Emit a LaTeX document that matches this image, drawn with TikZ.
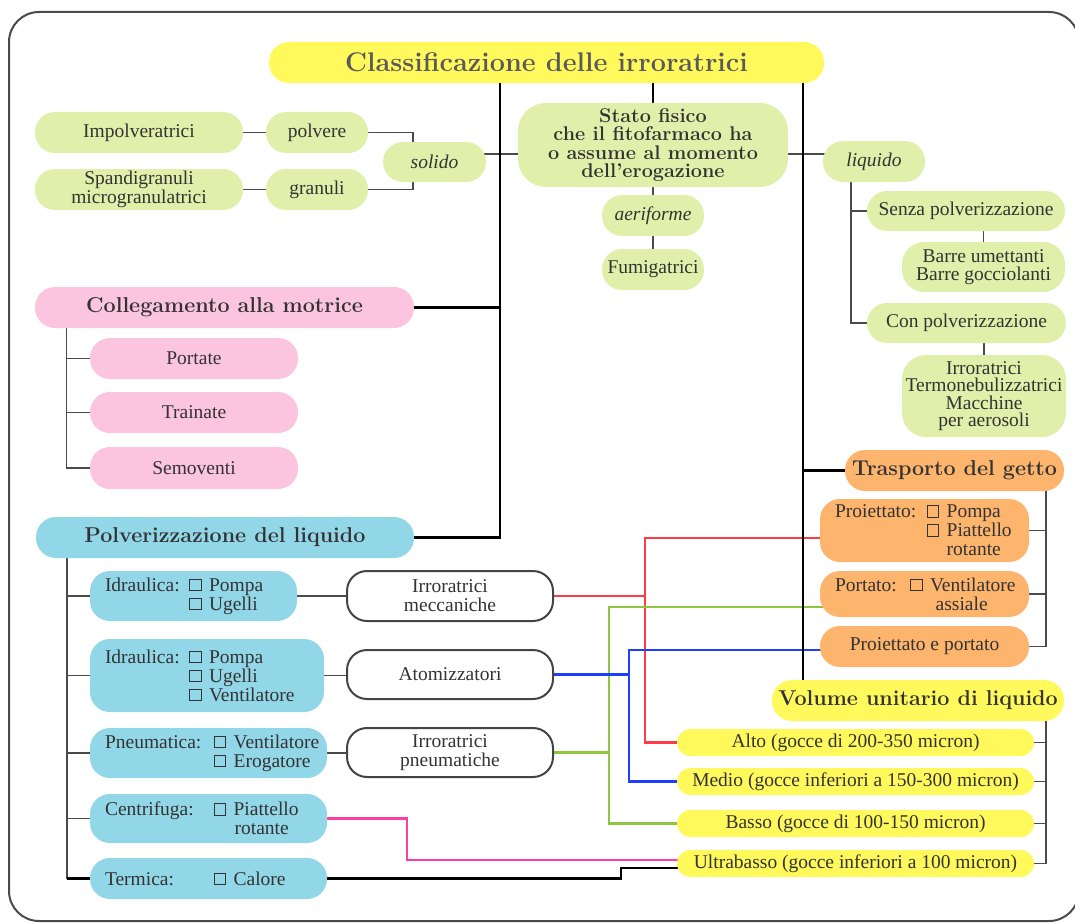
\documentclass[tikz,border=0pt]{standalone}
\usepackage{fontspec}
\newfontfamily\lib{Liberation Serif}
\pgfdeclarelayer{bg}
\pgfsetlayers{bg,main}
\definecolor{cyel}{HTML}{FFF95C}
\definecolor{cgr}{HTML}{E0EFA9}
\definecolor{cpk}{HTML}{FBC4DF}
\definecolor{cbl}{HTML}{92D7E7}
\definecolor{cor}{HTML}{FDB46C}
\definecolor{txt}{HTML}{333333}
\definecolor{ttl}{HTML}{5A5A5A}
\definecolor{lin}{HTML}{4A4A4A}
\definecolor{bord}{HTML}{444444}
\definecolor{fr}{HTML}{4A4A4A}
\definecolor{lred}{HTML}{FF3B47}
\definecolor{lgr}{HTML}{8DC63F}
\definecolor{lbl}{HTML}{1F3FFF}
\definecolor{lpk}{HTML}{FF3F9F}
\newcommand\bodyf{\lib\fontsize{19.5}{17.5}\selectfont}
\newcommand\chkf{\lib\fontsize{19.5}{19}\selectfont}
\newcommand\headf{\fontsize{21.5}{24}\selectfont\bfseries}
\newcommand\statof{\fontsize{19.8}{18.2}\selectfont\bfseries}
\newcommand\titlef{\fontsize{27}{29}\selectfont\bfseries}
\newcommand\ckb{\raisebox{1pt}{\setlength{\fboxsep}{0pt}\setlength{\fboxrule}{1.1pt}\fbox{\rule{0pt}{10.5pt}\rule{10.5pt}{0pt}}}\kern7.3pt}
\newcommand{\bx}[7]{%
 \pgfmathsetmacro\bxw{#5-#3}%
 \pgfmathsetmacro\bxh{#6-#4}%
 \pgfmathsetmacro\bxx{(#3+#5)/2}%
 \pgfmathsetmacro\bxy{(#4+#6)/2}%
 \node[#2,minimum width=\bxw pt,minimum height=\bxh pt] (#1) at (\bxx,\bxy) {#7};}
\newcommand{\lbx}[7]{%
 \pgfmathsetmacro\bxw{#5-#3-30}%
 \pgfmathsetmacro\bxh{#6-#4}%
 \pgfmathsetmacro\bxx{(#3+#5)/2}%
 \pgfmathsetmacro\bxy{(#4+#6)/2}%
 \node[#2,text width=\bxw pt,inner xsep=15pt,align=left,minimum height=\bxh pt] (#1) at (\bxx,\bxy) {#7};}
\tikzset{
 base/.style={rounded corners=20pt,inner sep=0pt,align=center,text=txt,font=\bodyf},
 gbox/.style={base,fill=cgr},
 pbox/.style={base,fill=cpk},
 bbox/.style={base,fill=cbl},
 obox/.style={base,fill=cor},
 ybox/.style={base,fill=cyel},
 wbox/.style={base,fill=white,draw=bord,line width=2pt},
 head/.style={font=\headf},
 small/.style={rounded corners=13.5pt},
 thk/.style={draw=black,line width=2.4pt},
 thn/.style={draw=lin,line width=1.4pt},
 coln/.style={line width=2.2pt},
 framebox/.style={draw=fr,line width=2pt,rounded corners=30pt}
}
\begin{document}
\begin{tikzpicture}[x=1pt,y=-1pt]
\path[use as bounding box] (0,0) rectangle (1075,923);
\draw[framebox] (9,12) rectangle (1079,921);

% top
\bx{title}{ybox,font=\titlef,text=ttl}{269}{42}{824}{83}{Classificazione delle irroratrici}
\bx{stato}{gbox,font=\statof,rounded corners=28pt}{518}{103}{788}{187}{Stato fisico\\che il fitofarmaco ha\\o assume al momento\\dell’erogazione}
\bx{solido}{gbox,font=\bodyf\itshape}{383}{142}{486}{182}{solido}
\bx{polvere}{gbox}{266}{112}{368}{153}{polvere}
\bx{granuli}{gbox}{266}{169}{368}{210}{granuli}
\bx{impol}{gbox}{35}{112}{243}{153}{Impolveratrici}
\bx{spandi}{gbox}{35}{169}{243}{210}{Spandigranuli\\microgranulatrici}
\bx{aeri}{gbox,font=\bodyf\itshape}{602}{195}{704}{236}{aeriforme}
\bx{fumi}{gbox}{602}{249}{704}{290}{Fumigatrici}
\bx{liquido}{gbox,font=\bodyf\itshape}{823}{141}{925}{182}{liquido}
\bx{senza}{gbox}{867}{191}{1065}{231}{Senza polverizzazione}
\bx{barre}{gbox,rounded corners=22pt}{902}{242}{1065}{292}{Barre umettanti\\Barre gocciolanti}
\bx{con}{gbox}{867}{303}{1066}{343}{Con polverizzazione}
\bx{irror}{gbox,rounded corners=24pt}{902}{355}{1066}{437}{Irroratrici\\Termonebulizzatrici\\Macchine\\per aerosoli}

% collegamento
\bx{coll}{pbox,head}{35}{287}{414}{328}{Collegamento alla motrice}
\bx{portate}{pbox}{90}{338}{298}{379}{Portate}
\bx{trainate}{pbox}{90}{392}{298}{433}{Trainate}
\bx{semov}{pbox}{90}{447}{298}{489}{Semoventi}

% polverizzazione
\bx{polv}{bbox,head}{36}{517}{414}{558}{Polverizzazione del liquido}
\lbx{idr1}{bbox,font=\chkf}{90}{571}{297}{621}{\makebox[84pt][l]{Idraulica:}\ckb Pompa\\\hspace*{84pt}\ckb Ugelli}
\lbx{idr2}{bbox,font=\chkf}{90}{639}{324}{712}{\makebox[84pt][l]{Idraulica:}\ckb Pompa\\\hspace*{84pt}\ckb Ugelli\\\hspace*{84pt}\ckb Ventilatore}
\lbx{pneu}{bbox,font=\chkf}{90}{728}{327}{778}{\makebox[108.6pt][l]{Pneumatica:}\ckb Ventilatore\\\hspace*{108.6pt}\ckb Erogatore}
\lbx{centr}{bbox,font=\chkf}{90}{794}{327}{843}{\makebox[108.6pt][l]{Centrifuga:}\ckb Piattello\\\hspace*{129.6pt}rotante}
\lbx{term}{bbox,font=\chkf}{90}{858}{327}{899}{\makebox[108.6pt][l]{Termica:}\ckb Calore}
\bx{mecc}{wbox,font=\chkf}{347}{571}{553}{621}{Irroratrici\\meccaniche}
\bx{atom}{wbox}{347}{650}{553}{699}{Atomizzatori}
\bx{pneum}{wbox,font=\chkf}{347}{728}{553}{777}{Irroratrici\\pneumatiche}

% trasporto
\bx{trasp}{obox,head}{845}{450}{1064}{491}{Trasporto del getto}
\lbx{proi}{obox,font=\chkf}{820}{499}{1029}{562}{\makebox[91.7pt][l]{Proiettato:}\ckb Pompa\\\hspace*{91.7pt}\ckb Piattello\\\hspace*{111.7pt}rotante}
\lbx{port}{obox,font=\chkf}{820}{571}{1029}{617}{\makebox[75pt][l]{Portato:}\ckb Ventilatore\\\hspace*{100.7pt}assiale}
\bx{pep}{obox}{820}{626}{1029}{667}{Proiettato e portato}

% volume
\bx{vol}{ybox,head}{772}{680}{1064}{721}{Volume unitario di liquido}
\bx{alto}{ybox,small}{677}{729}{1034}{756}{Alto (gocce di 200-350 micron)}
\bx{medio}{ybox,small}{677}{768}{1034}{795}{Medio (gocce inferiori a 150-300 micron)}
\bx{basso}{ybox,small}{677}{810}{1034}{837}{Basso (gocce di 100-150 micron)}
\bx{ultra}{ybox,small}{677}{850}{1034}{877}{Ultrabasso (gocce inferiori a 100 micron)}

% helper coordinates
\coordinate (xL) at (500,0);
\coordinate (xR) at (803,0);
\coordinate (xs) at (413,0);
\coordinate (xq) at (851,0);
\coordinate (xc) at (66.5,0);
\coordinate (xp) at (67,0);
\coordinate (xt) at (1046,0);
\coordinate (xr) at (645,0);
\coordinate (xg) at (609,0);
\coordinate (xb) at (629,0);
\coordinate (xk) at (407,0);
\coordinate (xz) at (621,0);
\coordinate (sl) at ([yshift=-9pt]stato.center);
\coordinate (pr) at ([yshift=-7.5pt]proi.center);
\coordinate (pg) at ([yshift=-13pt]port.center);
\coordinate (pb) at ([yshift=-3.5pt]pep.center);
\coordinate (uk) at ([yshift=3.5pt]ultra.center);
\coordinate (uz) at ([yshift=-4.5pt]ultra.center);

\begin{pgfonlayer}{bg}
% coloured links
\draw[coln,lred] (mecc.center) -| (xr |- alto.center) -- (alto.center);
\draw[coln,lred] (xr |- mecc.center) |- (pr);
\draw[coln,lgr] (pneum.center) -| (xg |- basso.center) -- (basso.center);
\draw[coln,lgr] (xg |- pneum.center) |- (pg);
\draw[coln,lbl] (atom.center) -| (xb |- medio.center) -- (medio.center);
\draw[coln,lbl] (xb |- atom.center) |- (pb);
\draw[coln,lpk] (centr.center) -| (xk |- uk) -- (uk);
% thin connectors
\draw[thn] (sl -| solido.center) -- (sl -| liquido.center);
\draw[thn] (stato.center) -- (aeri.center);
\draw[thn] (aeri.center) -- (fumi.center);
\draw[thn] (impol.center) -- (polvere.center);
\draw[thn] (spandi.center) -- (granuli.center);
\draw[thn] (polvere.center) -| (xs |- solido.center);
\draw[thn] (granuli.center) -| (xs |- solido.center);
\draw[thn] (xq |- liquido.center) |- (con.center);
\draw[thn] (xq |- senza.center) -- (senza.center);
\draw[thn] (barre.center) -- (barre.center |- senza.center);
\draw[thn] (irror.center) -- (irror.center |- con.center);
\draw[thn] (xc |- coll.center) |- (semov.center);
\draw[thn] (xc |- portate.center) -- (portate.center);
\draw[thn] (xc |- trainate.center) -- (trainate.center);
\draw[thn] (xp |- polv.center) -- (xp |- term.center);
\draw[thn] (xp |- idr1.center) -- (idr1.center);
\draw[thn] (xp |- idr2.center) -- (idr2.center);
\draw[thn] (xp |- pneu.center) -- (pneu.center);
\draw[thn] (xp |- centr.center) -- (centr.center);
\draw[thn] (idr1.center) -- (mecc.center);
\draw[thn] (idr2.center) -- (idr2.center -| atom.center);
\draw[thn] (pneu.center) -- (pneu.center -| pneum.center);
\draw[thn] (xt |- trasp.center) |- (pep.center);
\draw[thn] (xt |- proi.center) -- (proi.center);
\draw[thn] (xt |- port.center) -- (port.center);
\draw[thn] (xt |- vol.center) |- (ultra.center);
\draw[thn] (xt |- alto.center) -- (alto.center);
\draw[thn] (xt |- medio.center) -- (medio.center);
\draw[thn] (xt |- basso.center) -- (basso.center);
% thick trunks
\draw[thk] (title.center -| xL) |- (polv.center);
\draw[thk] (coll.center) -- (coll.center -| xL);
\draw[thk] (title.center -| xR) -- (vol.center -| xR);
\draw[thk] (trasp.center -| xR) -- (trasp.center);
\draw[thk] (title.center -| stato.center) -- (stato.center);
\draw[thk] (xp |- term.center) -- (term.center);
\draw[thk] (term.center) -| (xz |- uz) -- (uz);
\end{pgfonlayer}
\end{tikzpicture}
\end{document}
